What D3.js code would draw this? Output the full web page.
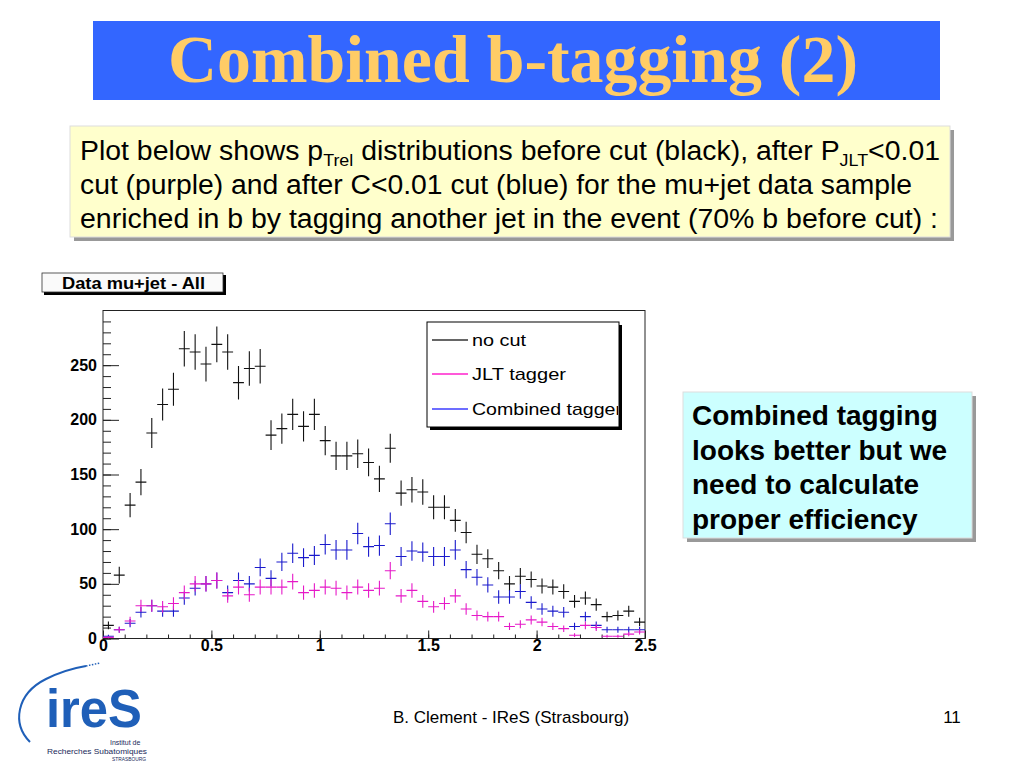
<!DOCTYPE html>
<html>
<head>
<meta charset="utf-8">
<script src="https://cdn.jsdelivr.net/npm/d3@7"></script>
<style>
  body { margin: 0; background: #fff; }
  svg { display: block; }
</style>
</head>
<body>
<script>
// histogram bins: 50 bins of 0.05 in pTrel, 0 -> 2.5
const binLo = 0, binHi = 2.5, binWidth = 0.05;

// counts
const noCut = [12, 58, 122, 143, 188, 214, 228, 265, 262, 251,
  269, 262, 234, 247, 249, 186, 192, 205, 194, 205,
  181, 167, 167, 169, 161, 146, 174, 133, 136, 134,
  120, 120, 108, 97, 77, 73, 62, 50, 57, 54,
  48, 47, 43, 34, 37, 31, 20, 21, 25, 15];
const jltTagger = [1, 8, 16, 30, 30, 29, 32, 42, 50, 50,
  53, 39, 47, 40, 47, 47, 47, 52, 42, 44,
  47, 46, 42, 47, 44, 46, 62, 39, 44, 34,
  29, 32, 39, 27, 21, 20, 20, 11, 13, 17,
  15, 11, 9, 3, 12, 10, 2, 2, 4, 6];
const combTagger = [2, 8, 14, 24, 30, 25, 25, 37, 46, 50,
  53, 42, 53, 50, 65, 55, 70, 78, 74, 76,
  86, 81, 81, 96, 84, 85, 105, 75, 80, 79,
  75, 75, 81, 63, 56, 49, 38, 38, 43, 33,
  27, 25, 24, 11, 20, 12, 8, 8, 8, 8];

const legendLabels = ["no cut", "JLT tagger", "Combined tagger"];
const yLabelTicks = [0, 50, 100, 150, 200, 250];
const xLabelTicks = [0, 0.5, 1, 1.5, 2, 2.5];

const W = 1024, H = 768;
const svg = d3.select("body").append("svg")
  .attr("width", W).attr("height", H);

// ---- slide title ----
svg.append("rect").attr("x", 93).attr("y", 21).attr("width", 847).attr("height", 79)
  .attr("fill", "#3366ff");
svg.append("text").attr("x", 513).attr("y", 82)
  .attr("text-anchor", "middle")
  .attr("textLength", 690).attr("lengthAdjust", "spacingAndGlyphs")
  .style("font-family", "'Liberation Serif', 'DejaVu Serif', serif")
  .style("font-weight", "bold").style("font-size", "68px")
  .attr("fill", "#ffcc66")
  .text("Combined b-tagging (2)");

// ---- yellow text box ----
svg.append("rect").attr("x", 74).attr("y", 130).attr("width", 880).attr("height", 111).attr("fill", "#999");
svg.append("rect").attr("x", 70).attr("y", 126).attr("width", 880).attr("height", 111)
  .attr("fill", "#ffffcc").attr("stroke", "#ddd");

const boxFont = "'Liberation Sans', Arial, sans-serif";
const narrowFont = "'Liberation Sans Narrow', 'Liberation Sans', Arial, sans-serif";
const l1 = svg.append("text").attr("x", 80).attr("y", 160)
  .style("font-family", narrowFont).style("font-size", "27px")
  .attr("textLength", 860).attr("lengthAdjust", "spacingAndGlyphs");
l1.append("tspan").text("Plot below shows p");
l1.append("tspan").attr("dy", 6).style("font-size", "17px").text("Trel");
l1.append("tspan").attr("dy", -6).text(" distributions before cut (black), after P");
l1.append("tspan").attr("dy", 6).style("font-size", "17px").text("JLT");
l1.append("tspan").attr("dy", -6).text("<0.01");

svg.append("text").attr("x", 80).attr("y", 194)
  .style("font-family", narrowFont).style("font-size", "27px")
  .attr("textLength", 832).attr("lengthAdjust", "spacingAndGlyphs")
  .text("cut (purple) and after C<0.01 cut (blue) for the mu+jet data sample");
svg.append("text").attr("x", 80).attr("y", 228)
  .style("font-family", narrowFont).style("font-size", "27px")
  .attr("textLength", 858).attr("lengthAdjust", "spacingAndGlyphs")
  .text("enriched in b by tagging another jet in the event (70% b before cut) :");

// ---- cyan side box ----
svg.append("rect").attr("x", 687).attr("y", 396).attr("width", 289).attr("height", 146).attr("fill", "#999");
svg.append("rect").attr("x", 683).attr("y", 392).attr("width", 289).attr("height", 146)
  .attr("fill", "#ccffff").attr("stroke", "#ddd");
["Combined tagging", "looks better but we", "need to calculate", "proper efficiency"].forEach((s, i) => {
  svg.append("text").attr("x", 692).attr("y", 425 + i * 34.5)
    .style("font-family", boxFont).style("font-weight", "bold").style("font-size", "28px")
    .text(s);
});

// ---- the ROOT plot ----
const x = d3.scaleLinear().domain([binLo, binHi]).range([103, 645]);
const y = d3.scaleLinear().domain([0, 300]).range([638.5, 310.5]);
const rootFont = "'Liberation Sans', Arial, sans-serif";

// histogram title pad
svg.append("rect").attr("x", 44).attr("y", 275).attr("width", 182).attr("height", 20).attr("fill", "#000");
svg.append("rect").attr("x", 42).attr("y", 273).attr("width", 181).attr("height", 19)
  .attr("fill", "#fafafa").attr("stroke", "#333").attr("stroke-width", 0.8);
svg.append("text").attr("x", 62).attr("y", 289)
  .attr("textLength", 143).attr("lengthAdjust", "spacingAndGlyphs")
  .style("font-family", rootFont).style("font-weight", "bold").style("font-size", "16px")
  .text("Data mu+jet - All");

// frame
svg.append("rect").attr("x", x(0)).attr("y", y(300))
  .attr("width", x(2.5) - x(0)).attr("height", y(0) - y(300))
  .attr("fill", "#fff").attr("stroke", "#222").attr("stroke-width", 1);

// axes: ticks drawn inside the frame like ROOT does
const yMinor = svg.append("g").attr("transform", `translate(${x(0)},0)`)
  .call(d3.axisLeft(y).tickValues(d3.range(0, 300, 10)).tickSizeInner(-8).tickSizeOuter(0).tickFormat(""));
const yMajor = svg.append("g").attr("transform", `translate(${x(0)},0)`)
  .call(d3.axisLeft(y).tickValues(yLabelTicks).tickSizeInner(-16).tickSizeOuter(0).tickPadding(4).tickFormat(d3.format("d")));
const xMinor = svg.append("g").attr("transform", `translate(0,${y(0)})`)
  .call(d3.axisBottom(x).tickValues(d3.range(0, 2.51, 0.1)).tickSizeInner(-4).tickSizeOuter(0).tickFormat(""));
const xMajor = svg.append("g").attr("transform", `translate(0,${y(0)})`)
  .call(d3.axisBottom(x).tickValues(xLabelTicks).tickSizeInner(-8).tickSizeOuter(0).tickPadding(4).tickFormat(d => d));

[yMinor, yMajor, xMinor, xMajor].forEach(g => {
  g.select(".domain").remove();
  g.selectAll("line").attr("stroke", "#222");
  g.selectAll("text").style("font-family", rootFont).style("font-weight", "bold")
    .style("font-size", "16px").attr("fill", "#000");
});
yMajor.selectAll("text").attr("dx", -2);
xMajor.selectAll("text").attr("dy", "0.55em");

// error-bar crosses: horizontal = bin width, vertical = sqrt(N)
svg.append("clipPath").attr("id", "frameClip").append("rect")
  .attr("x", x(0)).attr("y", y(300)).attr("width", x(2.5) - x(0)).attr("height", y(0) - y(300));

function drawHist(counts, color) {
  const g = svg.append("g").attr("clip-path", "url(#frameClip)")
    .attr("stroke", color).attr("stroke-width", 1.1);
  const pts = counts.map((n, i) => ({ lo: binLo + i * binWidth, n: n }));
  g.selectAll("line.h").data(pts).enter().append("line")
    .attr("x1", d => x(d.lo)).attr("x2", d => x(d.lo + binWidth))
    .attr("y1", d => y(d.n)).attr("y2", d => y(d.n));
  g.selectAll("line.v").data(pts.filter(d => d.n > 0)).enter().append("line")
    .attr("x1", d => x(d.lo + binWidth / 2)).attr("x2", d => x(d.lo + binWidth / 2))
    .attr("y1", d => y(d.n - Math.sqrt(d.n))).attr("y2", d => y(d.n + Math.sqrt(d.n)));
}
drawHist(noCut, "#111");
drawHist(combTagger, "#1a1acc");
drawHist(jltTagger, "#e619c8");

// legend
const legendColors = ["#333333", "#ff22cc", "#3d3dff"];
const legendLens = [54, 94, 150];
svg.append("rect").attr("x", 430).attr("y", 325).attr("width", 192).attr("height", 105).attr("fill", "#000");
svg.append("rect").attr("x", 427).attr("y", 322).attr("width", 192).attr("height", 105)
  .attr("fill", "#fff").attr("stroke", "#000").attr("stroke-width", 1);
svg.append("clipPath").attr("id", "legClip").append("rect")
  .attr("x", 427).attr("y", 322).attr("width", 191).attr("height", 105);
const leg = svg.append("g").attr("clip-path", "url(#legClip)");
legendLabels.forEach((s, i) => {
  const ly = 339.5 + i * 34.5;
  leg.append("line").attr("x1", 432).attr("x2", 468).attr("y1", Math.round(ly)).attr("y2", Math.round(ly))
    .attr("stroke", legendColors[i]).attr("stroke-width", 1.5);
  leg.append("text").attr("x", 472).attr("y", ly + 6)
    .attr("textLength", legendLens[i]).attr("lengthAdjust", "spacingAndGlyphs")
    .style("font-family", rootFont).style("font-size", "17px").text(s);
});

// ---- footer ----
svg.append("text").attr("x", 511).attr("y", 723).attr("text-anchor", "middle")
  .style("font-family", boxFont).style("font-size", "17px")
  .text("B. Clement - IReS (Strasbourg)");
svg.append("text").attr("x", 952).attr("y", 723).attr("text-anchor", "middle")
  .style("font-family", boxFont).style("font-size", "17px").text("11");

// ---- IReS logo ----
const logoBlue = "#1f5fb8";
const logo = svg.append("g");
logo.append("path")
  .attr("d", "M 30 742 C 12 724, 16 694, 46 679 C 60 672, 74 668, 86 666")
  .attr("fill", "none").attr("stroke", logoBlue).attr("stroke-width", 2);
logo.append("path")
  .attr("d", "M 86 666 L 100 663")
  .attr("fill", "none").attr("stroke", logoBlue).attr("stroke-width", 1.5).attr("stroke-dasharray", "1.5,1.5");
logo.append("text").attr("x", 46).attr("y", 727)
  .attr("textLength", 96).attr("lengthAdjust", "spacingAndGlyphs")
  .style("font-family", "'Liberation Sans', Arial, sans-serif").style("font-weight", "bold")
  .style("font-size", "54px").attr("fill", logoBlue).text("ireS");
logo.append("text").attr("x", 110).attr("y", 745)
  .style("font-family", boxFont).style("font-size", "7px").attr("fill", "#1a2a5a").text("Institut de");
logo.append("text").attr("x", 47).attr("y", 753.5)
  .attr("textLength", 100).attr("lengthAdjust", "spacingAndGlyphs")
  .style("font-family", boxFont).style("font-size", "7.5px").attr("fill", "#1a2a5a").text("Recherches Subatomiques");
logo.append("text").attr("x", 112).attr("y", 760.5)
  .attr("textLength", 34).attr("lengthAdjust", "spacingAndGlyphs")
  .style("font-family", boxFont).style("font-size", "5.5px").attr("fill", "#1a2a5a").text("STRASBOURG");
</script>
</body>
</html>
